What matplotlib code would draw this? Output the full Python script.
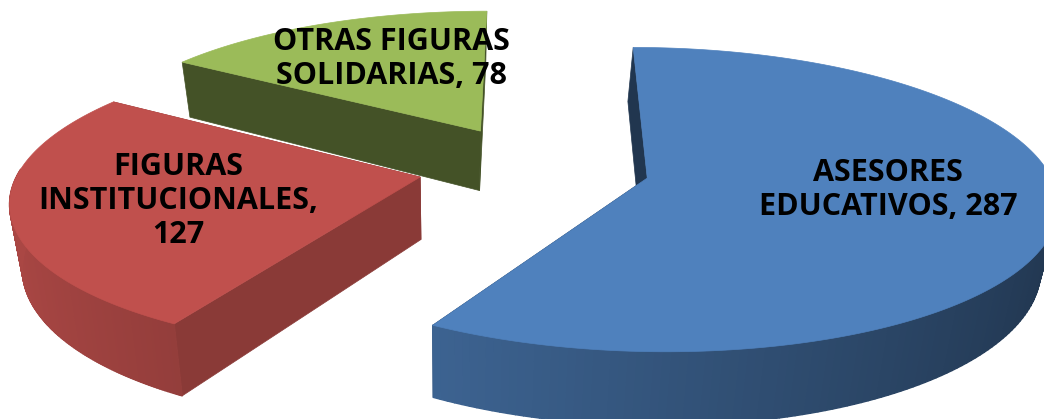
"""Exploded 3D-look pie chart of figure counts."""

from __future__ import annotations

import matplotlib
matplotlib.use("Agg")
import matplotlib.pyplot as plt
import numpy as np
from matplotlib.collections import PolyCollection
from matplotlib.colors import to_rgb

labels = ["ASESORES\nEDUCATIVOS, 287", "FIGURAS\nINSTITUCIONALES,\n127", "OTRAS FIGURAS\nSOLIDARIAS, 78"]
values = [287, 127, 78]
colors = ["#4F81BD", "#C0504D", "#9BBB59"]
cut_shades = [0.42, 0.72, 0.44]
label_xy = [(888, 190), (178, 201), (391, 59)]

CX, CY = 534, 167
RX, RY = 400, 146
PERSP = 0.14
EXPLODE = 0.29


def project(x, y):
    s = 1 / (1 + PERSP * y)
    return CX + RX * x * s, CY - RY * y * s


def drop(px, py):
    # point straight below the top face, edges lean toward the middle
    return px + (450 - px) * 0.029, py + 55 + (py - 62) * 0.065


def main() -> None:
    fig = plt.figure(figsize=(10.44, 4.19), dpi=100)
    ax = fig.add_axes([0, 0, 1, 1])
    ax.set_xlim(0, 1044)
    ax.set_ylim(419, 0)
    ax.axis("off")

    edges = np.cumsum([0] + values) / sum(values) * 2 * np.pi
    # back to front: green, red, blue
    for i in [2, 1, 0]:
        a0, a1 = edges[i], edges[i + 1]
        mid = (a0 + a1) / 2
        ox, oy = EXPLODE * np.sin(mid), EXPLODE * np.cos(mid)
        t = np.linspace(a0, a1, 200)
        px, py = project(ox + np.sin(t), oy + np.cos(t))
        ax_, ay_ = project(ox, oy)
        base = np.array(to_rgb(colors[i]))

        bx, by = drop(px, py)
        abx, aby = drop(ax_, ay_)
        for j in (0, -1):
            cut = [(px[j], py[j]), (bx[j], by[j]), (abx, aby), (ax_, ay_)]
            ax.fill(*zip(*cut), color=base * cut_shades[i], lw=0.5)

        quads = []
        shades = []
        for j in range(len(t) - 1):
            if np.cos(t[j]) > 0.05:  # back of the rim, hidden by the top face
                continue
            quads.append([(px[j], py[j]), (px[j + 1], py[j + 1]), (bx[j + 1], by[j + 1]), (bx[j], by[j])])
            shades.append(base * (0.653 - 0.233 * np.sin(t[j])))
        if quads:
            ax.add_collection(PolyCollection(quads, facecolors=shades, edgecolors=shades, linewidths=1.0))

        ax.fill(np.r_[ax_, px], np.r_[ay_, py], color=colors[i], lw=0.5)

    for text, (x, y) in zip(labels, label_xy):
        ax.text(x, y, text, ha="center", va="center", family="Open Sans", weight="bold",
                fontsize=22, color="black", linespacing=1.18)

    fig.savefig("out.png", dpi=100)
    plt.close(fig)


if __name__ == "__main__":
    main()
